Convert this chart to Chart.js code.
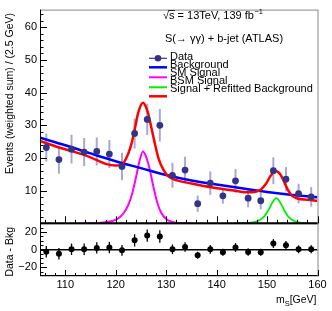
<!DOCTYPE html>
<html>
<head>
<meta charset="utf-8">
<script src="https://cdn.jsdelivr.net/npm/chart.js@4.4.1/dist/chart.umd.min.js"></script>
<style>
  html, body { margin: 0; padding: 0; background: #fff; }
</style>
</head>
<body>
<canvas id="myChart" width="332" height="311"></canvas>
<script>
// bins of 2.5 GeV
const binCenters = [106.25, 108.75, 111.25, 113.75, 116.25, 118.75, 121.25, 123.75, 126.25, 128.75, 131.25,
  133.75, 136.25, 138.75, 141.25, 143.75, 146.25, 148.75, 151.25, 153.75, 156.25, 158.75];
const dataValues = [23.2, 19.5, 22.7, 21.8, 22.0, 21.2, 17.4, 27.5, 31.8, 30.0, 14.7,
  16.3, 6.0, 12.3, 8.4, 13.0, 7.7, 6.9, 16.1, 13.5, 9.1, 8.1];
const dataErrors = [4.3, 4.3, 4.4, 4.3, 4.3, 4.3, 4.2, 4.6, 4.8, 5.0, 3.8,
  4.1, 2.5, 3.6, 2.4, 3.6, 2.8, 2.6, 4.1, 3.7, 3.0, 3.0];

// Data - Bkg (lower pad)
const diffValues = [-2.4, -4.7, 0.4, 0.4, 2.0, 2.4, -0.8, 10.6, 16.0, 15.0, 0.4,
  3.0, -6.3, 0.4, -3.0, 2.4, -2.7, -3.0, 7.0, 5.0, 0.4, 0.4];
const diffErrors = [6.5, 6.5, 6.5, 6.5, 6.5, 6.5, 6.0, 7.0, 7.0, 7.0, 5.5,
  5.5, 4.0, 5.0, 4.0, 5.0, 4.2, 4.0, 5.0, 5.0, 4.5, 4.5];

// curves
const bkgX = [105, 110, 115, 120, 125, 130, 135, 140, 145, 150, 155, 160];
const bkgY = [26.2, 23.9, 21.4, 19.0, 16.9, 14.8, 13.1, 11.9, 10.7, 9.6, 8.7, 8.0];

const fitX = [105, 108, 111.5, 115, 118, 120, 121, 122, 123, 123.75, 124.5, 125.4, 126.3, 127, 127.75,
  128.5, 129.5, 130.5, 132, 135, 139.5, 143, 146, 147.5, 148.75, 149.75, 150.75, 151.7, 152.6,
  153.5, 154.25, 155, 156, 158, 160];
const fitY = [25.2, 23.6, 22.0, 20.2, 18.2, 17.7, 17.8, 19.6, 23.6, 28.6, 34.0, 36.9, 34.3, 29.8, 24.5,
  19.8, 16.3, 14.3, 13.2, 12.2, 10.9, 10.1, 9.5, 9.6, 10.3, 12.0, 14.6, 16.0, 15.0,
  12.3, 9.9, 8.4, 7.6, 7.2, 6.9];

const smX = [113.5, 116, 118, 119.5, 120.5, 121.5, 122.5, 123.25, 124, 124.75, 125.4, 126, 126.75,
  127.5, 128.25, 129, 130, 131, 132.5, 135];
const smY = [0, 0.05, 0.3, 0.8, 1.5, 3.0, 5.6, 9.0, 13.9, 19.2, 22.0, 20.5, 16.5,
  11.0, 6.3, 3.3, 1.3, 0.5, 0.1, 0];

const bsmX = [143.5, 146, 148, 149.25, 150.25, 151, 151.8, 152.6, 153.4, 154.25, 155.5, 157, 158.5];
const bsmY = [0, 0.1, 0.6, 1.8, 4.0, 6.2, 7.7, 6.4, 4.0, 2.0, 0.6, 0.1, 0];

// tick labels
const xTicks = [110, 120, 130, 140, 150, 160];
const yTicks = [10, 20, 30, 40, 50, 60];
const diffTicks = [-20, 0, 20];

const FONT = '"Liberation Sans", Arial, sans-serif';

const pts = (xs, ys) => xs.map((x, i) => ({ x: x, y: ys[i] }));

const errorBars = {
  id: 'errorBars',
  beforeDatasetsDraw(chart) {
    const { ctx } = chart;
    const x = chart.scales.x, y = chart.scales.y, yr = chart.scales.yr;
    ctx.save();
    ctx.lineWidth = 2;
    ctx.strokeStyle = 'rgba(110,110,185,0.6)';
    binCenters.forEach((c, i) => {
      const px = x.getPixelForValue(c);
      ctx.beginPath();
      ctx.moveTo(px, y.getPixelForValue(dataValues[i] - dataErrors[i]));
      ctx.lineTo(px, y.getPixelForValue(dataValues[i] + dataErrors[i]));
      ctx.stroke();
    });
    // zero line of the lower pad
    ctx.strokeStyle = '#000';
    ctx.lineWidth = 1.5;
    ctx.beginPath();
    ctx.moveTo(x.left, yr.getPixelForValue(0));
    ctx.lineTo(x.right, yr.getPixelForValue(0));
    ctx.stroke();
    ctx.lineWidth = 1.3;
    binCenters.forEach((c, i) => {
      const px = x.getPixelForValue(c);
      ctx.beginPath();
      ctx.moveTo(px, yr.getPixelForValue(diffValues[i] - diffErrors[i]));
      ctx.lineTo(px, yr.getPixelForValue(diffValues[i] + diffErrors[i]));
      ctx.stroke();
    });
    ctx.restore();
  }
};

const rootFrame = {
  id: 'rootFrame',
  afterDraw(chart) {
    const { ctx } = chart;
    const x = chart.scales.x, y = chart.scales.y, yr = chart.scales.yr;
    const l = x.left, r = x.right;
    ctx.save();
    // frames
    ctx.strokeStyle = '#888';
    ctx.lineWidth = 1;
    ctx.strokeRect(l + 0.5, y.top + 0.5, r - l, y.bottom - y.top);
    ctx.strokeRect(l + 0.5, yr.top, r - l, yr.bottom - yr.top);
    ctx.strokeStyle = '#000';
    ctx.beginPath();
    ctx.moveTo(l + 0.5, y.top); ctx.lineTo(l + 0.5, yr.bottom);
    ctx.stroke();
    ctx.lineWidth = 2;
    ctx.beginPath();
    ctx.moveTo(l, y.bottom); ctx.lineTo(r, y.bottom);
    ctx.stroke();
    ctx.lineWidth = 1;
    ctx.beginPath();
    ctx.moveTo(l, yr.bottom - 0.5); ctx.lineTo(r, yr.bottom - 0.5);
    ctx.stroke();

    // tick marks (pointing inside)
    ctx.beginPath();
    for (let v = 106; v <= 160; v += 2) {
      const px = Math.round(x.getPixelForValue(v)) + 0.5;
      const major = xTicks.includes(v);
      ctx.moveTo(px, y.bottom); ctx.lineTo(px, y.bottom - (major ? 7 : 3.5));
      ctx.moveTo(px, yr.bottom); ctx.lineTo(px, yr.bottom - (major ? 6 : 3));
    }
    for (let v = 2; v <= 64; v += 2) {
      const py = Math.round(y.getPixelForValue(v)) + 0.5;
      const major = yTicks.includes(v);
      ctx.moveTo(l, py); ctx.lineTo(l + (major ? 7 : 3.5), py);
    }
    for (let v = -25; v <= 25; v += 5) {
      const py = Math.round(yr.getPixelForValue(v)) + 0.5;
      const major = diffTicks.includes(v);
      ctx.moveTo(l, py); ctx.lineTo(l + (major ? 7 : 3.5), py);
    }
    ctx.stroke();

    // axis titles
    ctx.fillStyle = '#000';
    ctx.font = '10.5px ' + FONT;
    ctx.textBaseline = 'middle';
    ctx.save();
    ctx.translate(10, 13);
    ctx.rotate(-Math.PI / 2);
    ctx.textAlign = 'right';
    ctx.fillText('Events (weighted sum) / (2.5 GeV)', 0, 0);
    ctx.restore();
    ctx.save();
    ctx.translate(10, 227);
    ctx.rotate(-Math.PI / 2);
    ctx.textAlign = 'right';
    ctx.fillText('Data - Bkg', 0, 0);
    ctx.restore();

    ctx.textBaseline = 'alphabetic';
    ctx.textAlign = 'left';
    const tail = '[GeV]';
    ctx.font = '10.5px ' + FONT;
    const wTail = ctx.measureText(tail).width;
    const wm = ctx.measureText('m').width;
    ctx.font = '7.5px ' + FONT;
    const wS = ctx.measureText('S').width;
    let tx = r - 1 - wTail - wS - wm;
    ctx.font = '10.5px ' + FONT;
    ctx.fillText('m', tx, 303);
    ctx.font = '7.5px ' + FONT;
    ctx.fillText('S', tx + wm, 306);
    ctx.font = '10.5px ' + FONT;
    ctx.fillText(tail, tx + wm + wS, 303);

    // header text
    ctx.font = '11px ' + FONT;
    let hx = 163;
    ctx.fillText('\u221A', hx, 19);
    hx += ctx.measureText('\u221A').width;
    ctx.fillText('s', hx, 19);
    const ws = ctx.measureText('s').width;
    ctx.lineWidth = 0.8;
    ctx.beginPath();
    ctx.moveTo(hx - 0.5, 10.5); ctx.lineTo(hx + ws + 0.5, 10.5);
    ctx.stroke();
    hx += ws;
    const mid = ' = 13TeV, 139 fb';
    ctx.fillText(mid, hx, 19);
    hx += ctx.measureText(mid).width;
    ctx.font = '7.5px ' + FONT;
    ctx.fillText('\u22121', hx + 0.5, 14);
    ctx.font = '11px ' + FONT;
    ctx.fillText('S(\u2192 \u03B3\u03B3) + b-jet (ATLAS)', 165, 42);

    // legend (ROOT style: symbols and text on different spacing)
    const lx0 = 149, lx1 = 167;
    const items = [
      { c: '#333388', y: 58.3, w: 1.2, marker: true },
      { c: '#0000ff', y: 67.3, w: 2.5 },
      { c: '#ff00ff', y: 77.3, w: 2 },
      { c: '#00ee00', y: 87.3, w: 2 },
      { c: '#ff0000', y: 96.3, w: 2.5 }
    ];
    items.forEach(it => {
      ctx.strokeStyle = it.c;
      ctx.lineWidth = it.w;
      ctx.beginPath();
      ctx.moveTo(lx0, it.y); ctx.lineTo(lx1, it.y);
      ctx.stroke();
      if (it.marker) {
        ctx.fillStyle = it.c;
        ctx.beginPath();
        ctx.arc((lx0 + lx1) / 2, it.y, 3.3, 0, Math.PI * 2);
        ctx.fill();
      }
    });
    ctx.fillStyle = '#000';
    ctx.font = '11px ' + FONT;
    const labels = ['Data', 'Background', 'SM Signal', 'BSM Signal', 'Signal + Refitted Background'];
    const baselines = [60, 68.2, 76.3, 84.4, 92.4];
    labels.forEach((t, i) => ctx.fillText(t, 170, baselines[i]));
    ctx.restore();
  }
};

const ctx = document.getElementById('myChart').getContext('2d');
const myChart = new Chart(ctx, {
  type: 'scatter',
  data: {
    datasets: [
      {
        label: 'Data',
        data: pts(binCenters, dataValues),
        yAxisID: 'y',
        pointRadius: 3.4,
        pointBackgroundColor: '#333388',
        pointBorderWidth: 0,
      },
      {
        label: 'Data - Bkg',
        data: pts(binCenters, diffValues),
        yAxisID: 'yr',
        pointRadius: 3,
        pointBackgroundColor: '#000',
        pointBorderWidth: 0,
      },
      {
        type: 'line',
        label: 'Signal + Refitted Background',
        data: pts(fitX, fitY),
        yAxisID: 'y',
        borderColor: '#ff0000',
        borderWidth: 2.5,
        pointRadius: 0,
        fill: false,
        cubicInterpolationMode: 'monotone',
      },
      {
        type: 'line',
        label: 'Background',
        data: pts(bkgX, bkgY),
        yAxisID: 'y',
        borderColor: '#0000ff',
        borderWidth: 2.5,
        pointRadius: 0,
        fill: false,
        cubicInterpolationMode: 'monotone',
      },
      {
        type: 'line',
        label: 'SM Signal',
        data: pts(smX, smY),
        yAxisID: 'y',
        borderColor: '#ff00ff',
        borderWidth: 2,
        pointRadius: 0,
        fill: false,
        cubicInterpolationMode: 'monotone',
      },
      {
        type: 'line',
        label: 'BSM Signal',
        data: pts(bsmX, bsmY),
        yAxisID: 'y',
        borderColor: '#00ee00',
        borderWidth: 1.8,
        pointRadius: 0,
        fill: false,
        cubicInterpolationMode: 'monotone',
      },
    ],
  },
  options: {
    responsive: false,
    animation: false,
    events: [],
    layout: { padding: { left: 0, right: 14.5, top: 6.5, bottom: 0 } },
    plugins: { legend: { display: false }, tooltip: { enabled: false } },
    scales: {
      x: {
        type: 'linear',
        min: 105,
        max: 160,
        position: 'bottom',
        grid: { display: false, drawTicks: false },
        border: { display: false },
        ticks: { color: '#000', font: { family: FONT, size: 11 }, padding: 2, maxRotation: 0, autoSkip: false },
        afterBuildTicks: (s) => { s.ticks = xTicks.map((v) => ({ value: v })); },
        afterFit: (s) => { s.height = 35; },
      },
      yr: {
        type: 'linear',
        position: 'left',
        stack: 'pads',
        stackWeight: 53.3,
        min: -30,
        max: 30,
        grid: { display: false, drawTicks: false },
        border: { display: false },
        ticks: {
          color: '#000',
          font: { family: FONT, size: 11 },
          padding: 3,
          autoSkip: false,
          callback: (v) => (v < 0 ? '\u2212' + Math.abs(v) : String(v)),
        },
        afterBuildTicks: (s) => { s.ticks = diffTicks.map((v) => ({ value: v })); },
        afterFit: (s) => { s.width = 40; },
      },
      y: {
        type: 'linear',
        position: 'left',
        stack: 'pads',
        stackWeight: 216.2,
        min: 0,
        max: 65.4,
        grid: { display: false, drawTicks: false },
        border: { display: false },
        ticks: { color: '#000', font: { family: FONT, size: 11 }, padding: 3, autoSkip: false },
        afterBuildTicks: (s) => { s.ticks = yTicks.map((v) => ({ value: v })); },
        afterFit: (s) => { s.width = 40; },
      },
    },
  },
  plugins: [errorBars, rootFrame],
});
</script>
</body>
</html>
